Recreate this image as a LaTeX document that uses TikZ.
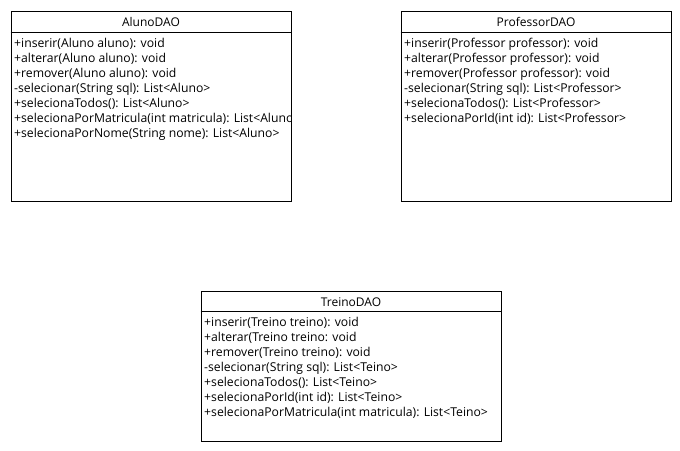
\documentclass[tikz,border=0pt]{standalone}
\usepackage{fontspec}
\setmainfont{Open Sans}
\begin{document}
\begin{tikzpicture}[x=1pt,y=-1pt,
  classbox/.style={draw=black, line width=1pt, inner sep=0pt, anchor=north west},
  classname/.style={font=\fontsize{12}{14}\selectfont, inner sep=0pt, anchor=mid},
  member/.style={font=\fontsize{12.2}{14}\selectfont, inner sep=0pt, anchor=mid west},
  divider/.style={draw=black, line width=1pt}]
\useasboundingbox[fill=white] (0,0) rectangle (680,450);

% AlunoDAO
\node[classbox, minimum width=280pt, minimum height=190pt] (aluno) at (10.5,10.5) {};
\draw[divider] ([yshift=-22pt]aluno.north west) -- ([yshift=-22pt]aluno.north east);
\node[classname] (aluno-name) at ([yshift=-13pt]aluno.north) {AlunoDAO};
\begin{scope}
  \clip (aluno.north west) rectangle (aluno.south east);
  \foreach \m [count=\i] in {
    {+inserir(Aluno aluno): void},
    {+alterar(Aluno aluno): void},
    {+remover(Aluno aluno): void},
    {-selecionar(String sql): List<Aluno>},
    {+selecionaTodos(): List<Aluno>},
    {+selecionaPorMatricula(int matricula): List<Aluno>},
    {+selecionaPorNome(String nome): List<Aluno>}}
    \node[member] (aluno-m\i) at ([xshift=3.5pt,yshift={-19.5pt-15pt*\i}]aluno.north west) {\m};
\end{scope}

% ProfessorDAO
\node[classbox, minimum width=270pt, minimum height=190pt] (prof) at (400.5,10.5) {};
\draw[divider] ([yshift=-22pt]prof.north west) -- ([yshift=-22pt]prof.north east);
\node[classname] (prof-name) at ([yshift=-13pt]prof.north) {ProfessorDAO};
\foreach \m [count=\i] in {
  {+inserir(Professor professor): void},
  {+alterar(Professor professor): void},
  {+remover(Professor professor): void},
  {-selecionar(String sql): List<Professor>},
  {+selecionaTodos(): List<Professor>},
  {+selecionaPorId(int id): List<Professor>}}
  \node[member] (prof-m\i) at ([xshift=3.5pt,yshift={-19.5pt-15pt*\i}]prof.north west) {\m};

% TreinoDAO
\node[classbox, minimum width=300pt, minimum height=150pt] (treino) at (200.5,290.5) {};
\draw[divider] ([yshift=-21pt]treino.north west) -- ([yshift=-21pt]treino.north east);
\node[classname] (treino-name) at ([yshift=-13pt]treino.north) {TreinoDAO};
\foreach \m [count=\i] in {
  {+inserir(Treino treino): void},
  {+alterar(Treino treino: void},
  {+remover(Treino treino): void},
  {-selecionar(String sql): List<Teino>},
  {+selecionaTodos(): List<Teino>},
  {+selecionaPorId(int id): List<Teino>},
  {+selecionaPorMatricula(int matricula): List<Teino>}}
  \node[member] (treino-m\i) at ([xshift=3.5pt,yshift={-18.5pt-15pt*\i}]treino.north west) {\m};
\end{tikzpicture}
\end{document}
